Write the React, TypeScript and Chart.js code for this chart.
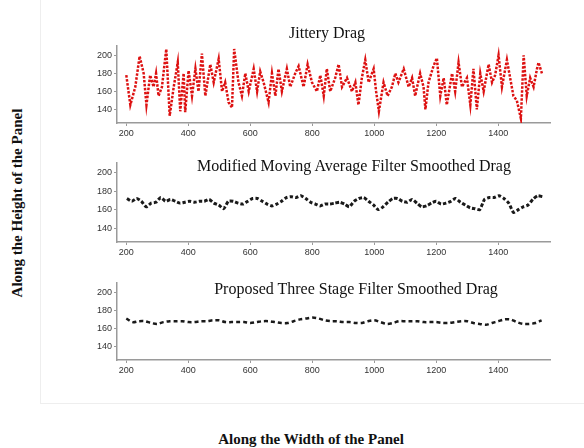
import React, { useEffect, useRef } from "react";
import { Chart, registerables } from "chart.js";

Chart.register(...registerables);

// ---- data ----
const xTicks = [200, 400, 600, 800, 1000, 1200, 1400];
const yTicks = [140, 160, 180, 200];

const jitterX = [
  200, 213, 229, 243, 256, 265, 277, 288, 296, 304,
  315, 329, 340, 353, 366, 374, 385, 390, 401, 412,
  423, 433, 444, 455, 471, 482, 498, 509, 519, 530,
  541, 548, 562, 573, 584, 595, 611, 622, 632, 643,
  659, 670, 681, 691, 702, 718, 729, 745, 756, 772,
  785, 799, 815, 826, 837, 847, 858, 874, 885, 896,
  912, 928, 939, 949, 960, 971, 982, 998, 1006, 1015,
  1030, 1043, 1057, 1068, 1078, 1095, 1111, 1122, 1132, 1148,
  1159, 1165, 1175, 1191, 1202, 1213, 1224, 1234, 1251, 1261,
  1272, 1283, 1299, 1310, 1320, 1331, 1342, 1353, 1369, 1380,
  1390, 1401, 1412, 1428, 1441, 1449, 1460, 1473, 1482, 1492,
  1503, 1514, 1525, 1530, 1541,
];
const jitterY = [
  178, 145, 165, 199, 180, 145, 178, 165, 180, 155,
  165, 207, 133, 165, 192, 138, 180, 137, 183, 155,
  185, 160, 202, 155, 190, 170, 196, 160, 170, 148,
  142, 207, 170, 155, 180, 160, 185, 160, 182, 170,
  148, 180, 155, 185, 160, 185, 165, 180, 188, 165,
  190, 170, 160, 178, 155, 185, 160, 175, 190, 165,
  175, 160, 170, 145, 175, 195, 170, 185, 160, 138,
  170, 155, 165, 180, 170, 185, 165, 175, 155, 180,
  165, 140, 170, 188, 197, 155, 175, 145, 180, 160,
  192, 165, 175, 145, 185, 140, 180, 160, 190, 170,
  178, 200, 165, 195, 170, 155, 150, 130, 200, 155,
  175, 165, 185, 192, 180,
];

const mmaStart = 202;
const mmaEnd = 1543;
const mmaY = [
  172, 169, 172, 169, 163, 167, 168, 173, 169, 171,
  169, 167, 168, 169, 168, 169, 169, 171, 167, 165,
  161, 169, 169, 167, 166, 169, 172, 172, 169, 166,
  164, 166, 169, 173, 174, 173, 175, 172, 168, 166,
  164, 166, 166, 167, 168, 166, 163, 169, 172, 173,
  169, 165, 160, 163, 168, 172, 172, 169, 168, 171,
  167, 163, 164, 167, 169, 166, 167, 169, 172, 168,
  165, 162, 161, 160, 171, 173, 173, 175, 172, 167,
  157, 160, 163, 165, 171, 175, 174,
];

const tsfStart = 200;
const tsfEnd = 1540;
const tsfY = [
  171, 167, 168, 168, 166, 165, 167, 168, 168, 168,
  167, 167, 168, 168, 169, 169, 167, 167, 167, 167,
  166, 167, 168, 168, 167, 166, 166, 168, 170, 171,
  172, 171, 169, 168, 168, 167, 167, 166, 166, 168,
  169, 167, 165, 166, 168, 168, 168, 168, 167, 167,
  167, 166, 166, 167, 168, 168, 166, 165, 164, 166,
  168, 170, 170, 167, 165, 165, 166, 169,
];

const titles = [
  "Jittery Drag",
  "Modified Moving Average Filter Smoothed Drag",
  "Proposed Three Stage Filter Smoothed Drag",
];
const yLabel = "Along the Height of the Panel";
const xLabel = "Along the Width of the Panel";

function spread(start: number, end: number, ys: number[]) {
  const step = (end - start) / (ys.length - 1);
  return ys.map((y, i) => ({ x: start + i * step, y }));
}

type PanelProps = {
  points: { x: number; y: number }[];
  color: string;
  width: number;
  dash: number[];
  tension: number;
  top: number;
  height: number;
};

function Panel({ points, color, width, dash, tension, top, height }: PanelProps) {
  const ref = useRef<HTMLCanvasElement>(null);
  useEffect(() => {
    if (!ref.current) return;
    const axisColor = "#9a9a9a";
    const tickFont = { family: "'Liberation Sans', Arial, sans-serif", size: 9 };
    const chart = new Chart(ref.current, {
      type: "line",
      data: {
        datasets: [
          {
            data: points,
            borderColor: color,
            borderWidth: width,
            borderDash: dash,
            pointRadius: 0,
            tension,
            fill: false,
          },
        ],
      },
      options: {
        animation: false,
        responsive: false,
        maintainAspectRatio: false,
        layout: { padding: { top: 0, right: 10, left: 0, bottom: 0 } },
        plugins: { legend: { display: false }, tooltip: { enabled: false } },
        scales: {
          x: {
            type: "linear",
            min: 170,
            max: 1567,
            afterBuildTicks: (s: any) => {
              s.ticks = xTicks.map((v) => ({ value: v }));
            },
            afterFit: (s: any) => {
              s.height = 18;
            },
            grid: { drawOnChartArea: false, drawTicks: true, tickLength: 3, color: axisColor },
            border: { display: true, color: axisColor, width: 1.5 },
            ticks: {
              font: tickFont,
              color: "#333",
              padding: 2,
              maxRotation: 0,
              callback: (v: any) => String(v),
            },
          },
          y: {
            min: 125,
            max: 211,
            afterBuildTicks: (s: any) => {
              s.ticks = yTicks.map((v) => ({ value: v }));
            },
            afterFit: (s: any) => {
              s.width = 37;
            },
            grid: { drawOnChartArea: false, drawTicks: true, tickLength: 3, color: axisColor },
            border: { display: true, color: axisColor, width: 1.5 },
            ticks: { font: tickFont, color: "#333", padding: 2, callback: (v: any) => String(v) },
          },
        },
      },
    });
    return () => chart.destroy();
  }, []);
  return (
    <div style={{ position: "absolute", left: 80, top, width: 480, height }}>
      <canvas ref={ref} width={480} height={height} style={{ display: "block" }} />
    </div>
  );
}

const serif = "'Liberation Serif', 'Times New Roman', serif";

function Title({ text, x, y }: { text: string; x: number; y: number }) {
  return (
    <div
      style={{
        position: "absolute",
        left: x,
        top: y,
        transform: "translate(-50%, -50%)",
        fontFamily: serif,
        fontSize: 16,
        lineHeight: 1,
        color: "#111",
        whiteSpace: "nowrap",
      }}
    >
      {text}
    </div>
  );
}

export default function App() {
  const jitter = jitterX.map((x, i) => ({ x, y: jitterY[i] }));
  const mma = spread(mmaStart, mmaEnd, mmaY);
  const tsf = spread(tsfStart, tsfEnd, tsfY);
  return (
    <div
      style={{
        position: "absolute",
        left: 0,
        top: 0,
        width: 584,
        height: 448,
        background: "#fff",
        overflow: "hidden",
      }}
    >
      <div
        style={{
          position: "absolute",
          left: 40,
          top: 0,
          width: 544,
          height: 403,
          borderLeft: "1px solid #eeeeee",
          borderBottom: "1px solid #eeeeee",
        }}
      />
      <Panel points={jitter} color="#dd1111" width={2.5} dash={[2.5, 1.5]} tension={0} top={38} height={103} />
      <Panel points={mma} color="#1a1a1a" width={3} dash={[3.5, 2]} tension={0.2} top={155} height={105} />
      <Panel points={tsf} color="#1a1a1a" width={2.5} dash={[4, 3]} tension={0.3} top={275} height={103} />
      <Title text={titles[0]} x={327} y={33} />
      <Title text={titles[1]} x={354} y={166} />
      <Title text={titles[2]} x={356} y={289} />
      <div
        style={{
          position: "absolute",
          left: 17,
          top: 203,
          transform: "translate(-50%, -50%) rotate(-90deg)",
          fontFamily: serif,
          fontWeight: "bold",
          fontSize: 15,
          lineHeight: 1,
          color: "#111",
          whiteSpace: "nowrap",
        }}
      >
        {yLabel}
      </div>
      <div
        style={{
          position: "absolute",
          left: 311,
          top: 439,
          transform: "translate(-50%, -50%)",
          fontFamily: serif,
          fontWeight: "bold",
          fontSize: 15,
          lineHeight: 1,
          color: "#111",
          whiteSpace: "nowrap",
        }}
      >
        {xLabel}
      </div>
    </div>
  );
}
